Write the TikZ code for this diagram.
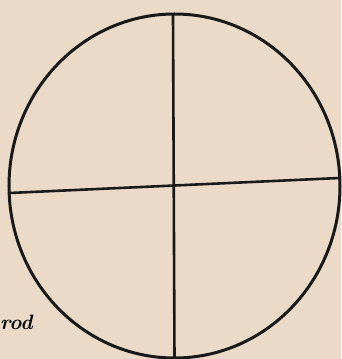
\documentclass[tikz,border=0pt]{standalone}
\definecolor{paper}{RGB}{236,218,200}
\tikzset{inkline/.style={line width=3pt,draw=black!90}}
\begin{document}
\begin{tikzpicture}[x=1pt,y=1pt]
\fill[paper] (0,0) rectangle (341,359);
\useasboundingbox (0,0) rectangle (341,359);
\coordinate (c) at (174.5,173);
\draw[inkline] (c) ellipse [x radius=165.5, y radius=172];
\coordinate (top) at (173,345);
\coordinate (bot) at (174.5,0);
\coordinate (lft) at (9.5,166);
\coordinate (rgt) at (339.5,181);
\draw[inkline,line width=2.6pt] (top) -- (bot);
\draw[inkline,line width=2.6pt] (lft) -- (rgt);
\node[font=\itshape\bfseries\huge, anchor=base west, inner sep=0pt] (lbl) at (0,30) {rod};
\end{tikzpicture}
\end{document}
